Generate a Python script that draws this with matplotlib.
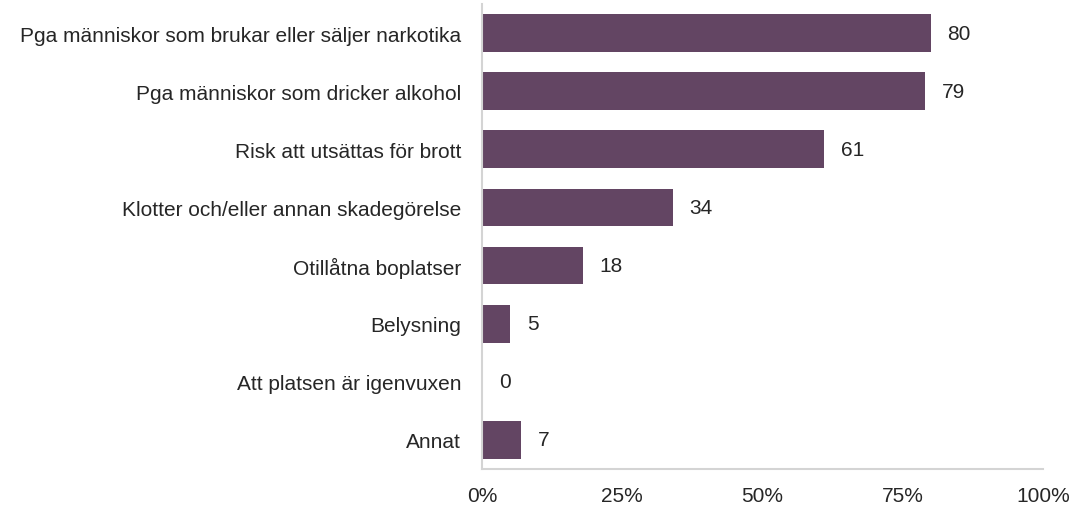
import matplotlib.pyplot as plt

plt.rcParams["font.family"] = ["Liberation Sans", "DejaVu Sans"]

categories = [
    "Pga människor som brukar eller säljer narkotika",
    "Pga människor som dricker alkohol",
    "Risk att utsättas för brott",
    "Klotter och/eller annan skadegörelse",
    "Otillåtna boplatser",
    "Belysning",
    "Att platsen är igenvuxen",
    "Annat",
]
values = [80, 79, 61, 34, 18, 5, 0, 7]
ticks = [0, 25, 50, 75, 100]
tick_labels = ["0%", "25%", "50%", "75%", "100%"]

bar_color = "#634563"
text_color = "#262626"
line_color = "#d4d4d4"

fig = plt.figure(figsize=(10.72, 5.06), dpi=100)
ax = fig.add_axes([0.4496, 0.0711, 0.5233, 0.919])

pos = range(len(categories))
ax.barh(pos, values, height=0.65, color=bar_color)

for p, v in zip(pos, values):
    ax.annotate(str(v), (v, p), xytext=(12, 0), textcoords="offset points",
                va="center", ha="left", fontsize=15, color=text_color)

ax.set_xlim(0, 100)
ax.set_ylim(len(categories) - 0.5, -0.5)
ax.set_yticks(list(pos))
ax.set_yticklabels(categories)
ax.set_xticks(ticks)
ax.set_xticklabels(tick_labels)
ax.tick_params(axis="both", length=0, labelsize=15, colors=text_color)
ax.tick_params(axis="y", pad=15)
ax.tick_params(axis="x", pad=12)

for side in ["top", "right"]:
    ax.spines[side].set_visible(False)
for side in ["left", "bottom"]:
    ax.spines[side].set_color(line_color)
    ax.spines[side].set_linewidth(1.5)

fig.savefig("out.png", dpi=100)
